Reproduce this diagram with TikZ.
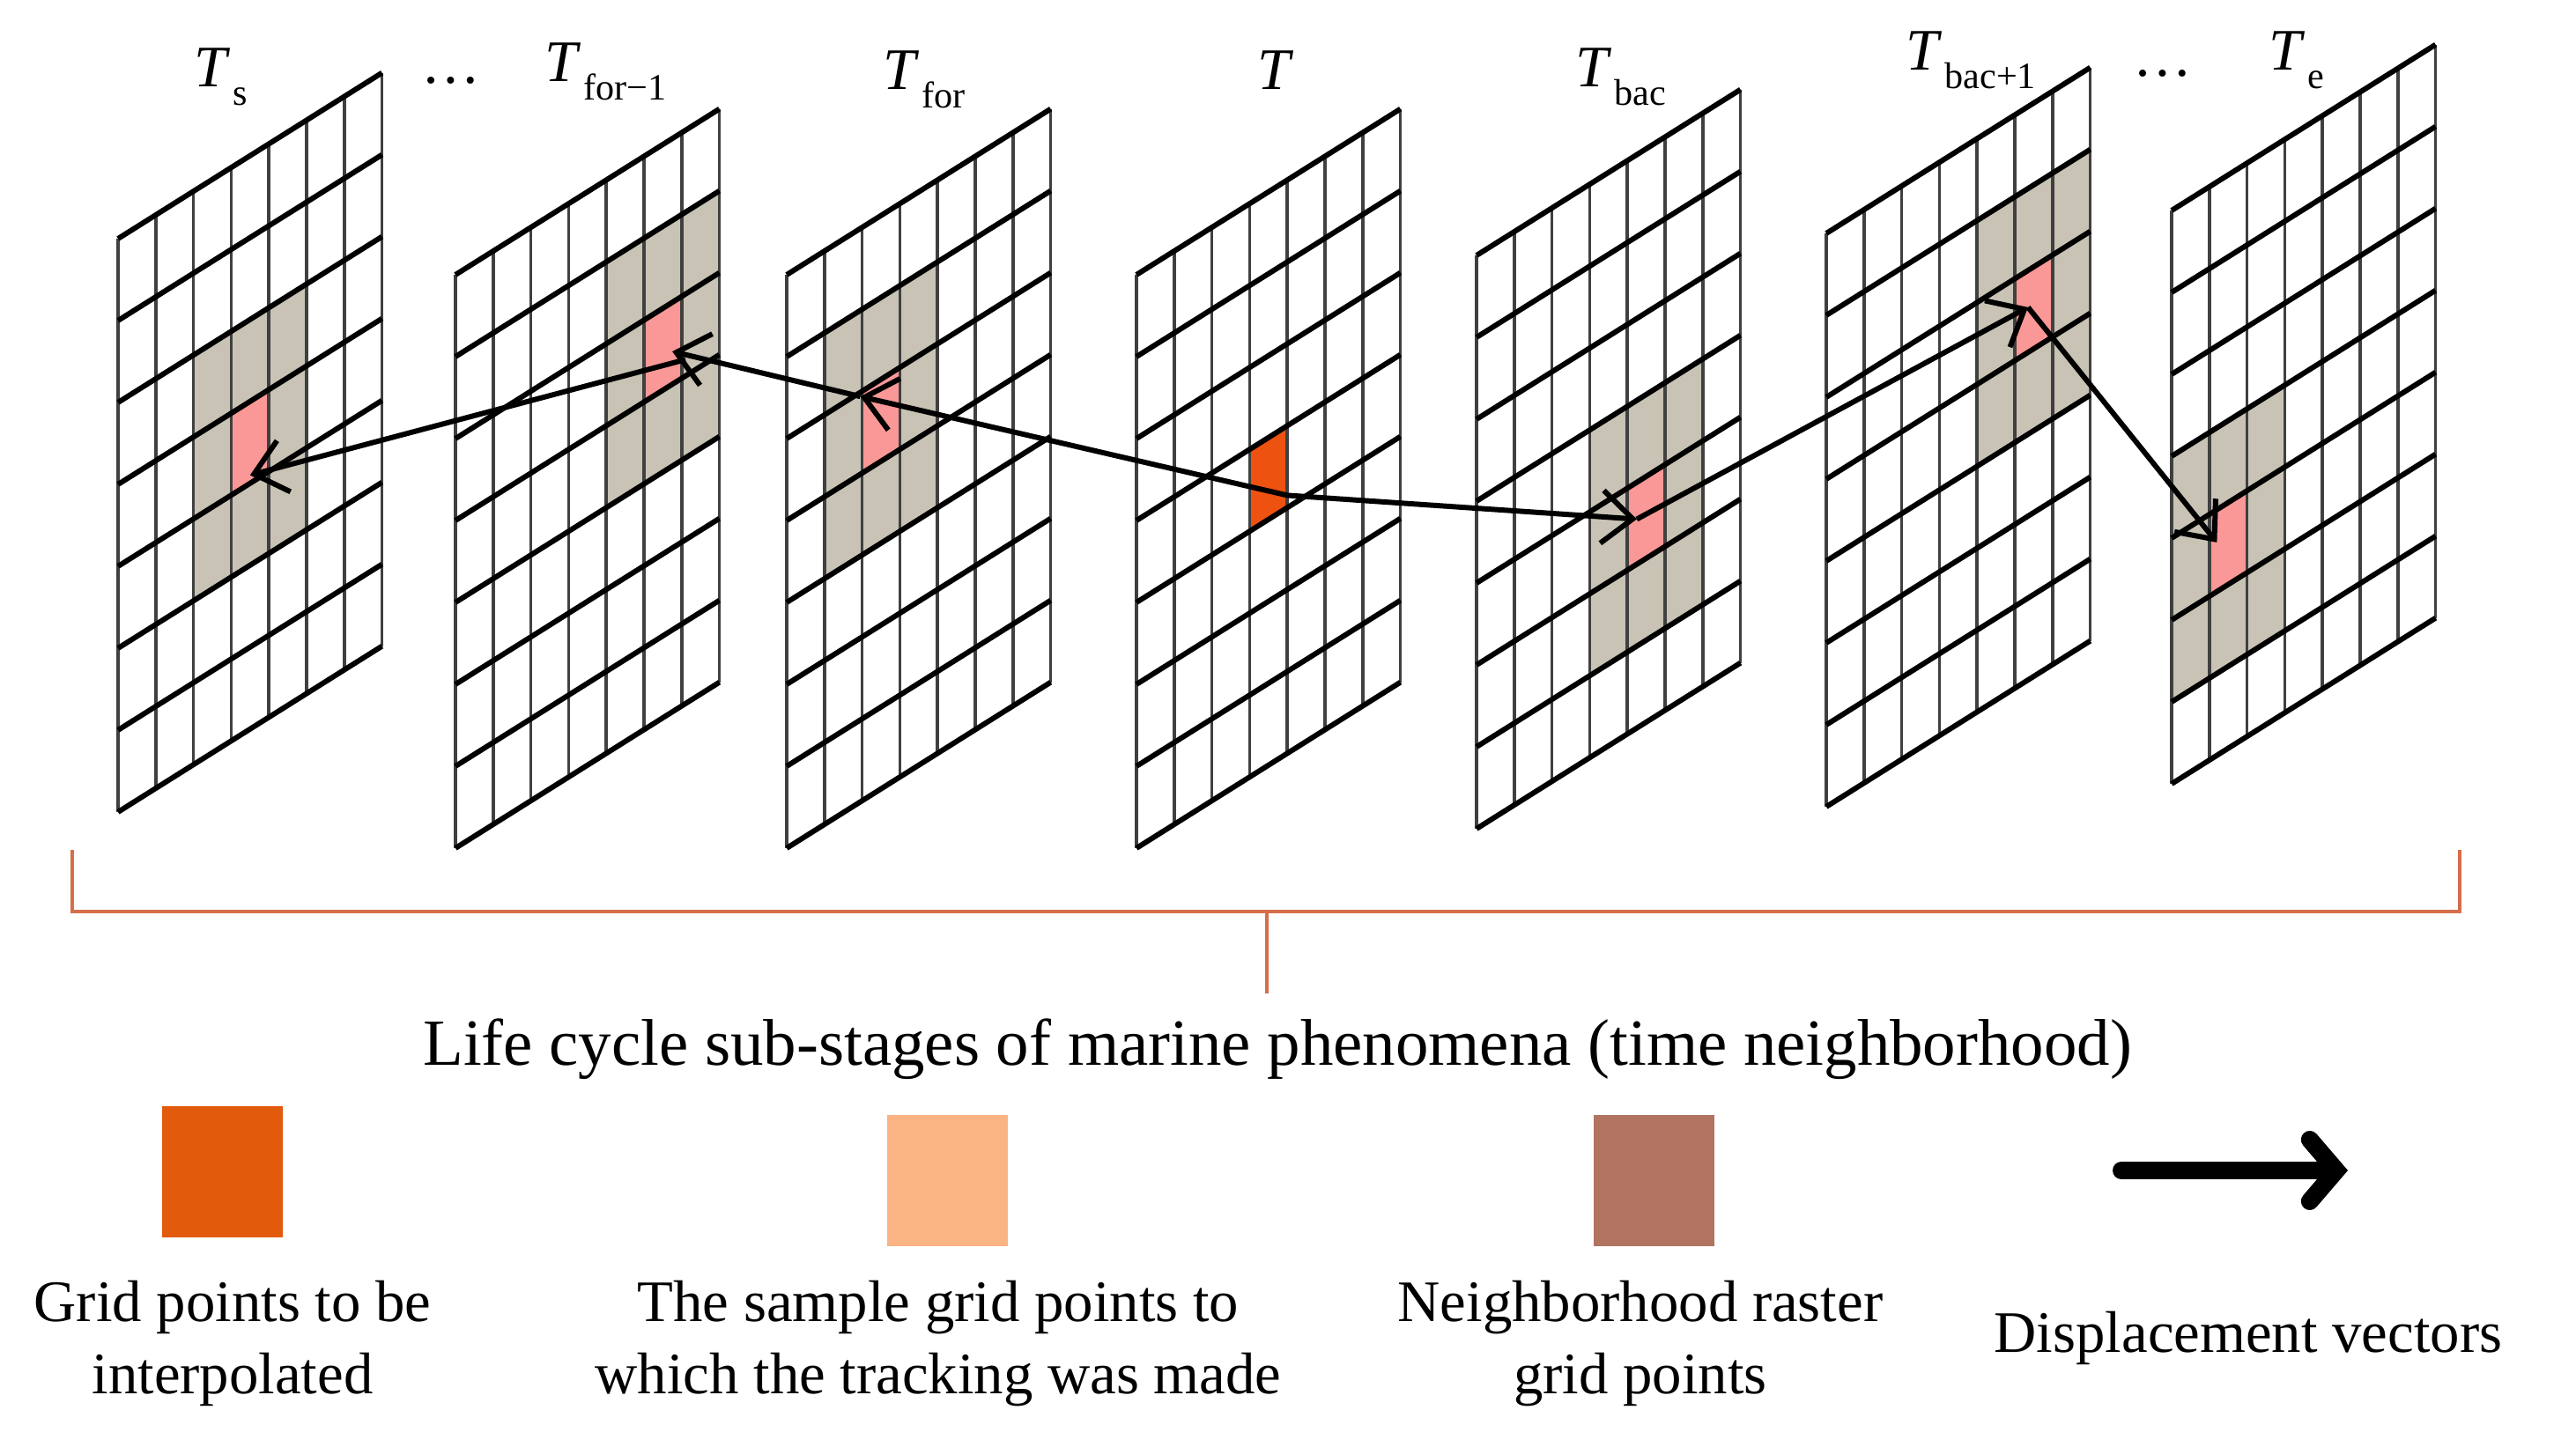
\documentclass[tikz,border=0pt]{standalone}
\usepackage{fontspec}
\setmainfont{Liberation Serif}
\usetikzlibrary{calc,arrows.meta}

\definecolor{ptorange}{RGB}{238,82,16}
\definecolor{ptpink}{RGB}{249,152,150}
\definecolor{nbgrey}{RGB}{200,195,181}
\definecolor{keyorange}{RGB}{226,90,12}
\definecolor{keypeach}{RGB}{250,180,132}
\definecolor{keybrown}{RGB}{176,116,96}
\definecolor{braceline}{RGB}{214,110,74}

\tikzset{
  raster/.style={shift={#1}, x={(0.428cm,0.269cm)}, y={(0cm,0.93cm)}},
  colline/.style={line width=1pt, black!75},
  rowline/.style={line width=1.7pt},
  dvec/.style={line width=1.7pt, -{Straight Barb[length=3.5mm,width=6mm]}},
  tlabel/.style={anchor=base west, inner sep=0pt, font=\fontsize{19}{23}\selectfont},
  keytext/.style={align=center, inner sep=0pt, font=\fontsize{19}{23.6}\selectfont},
  keybox/.style={minimum width=1.37cm, minimum height=1.49cm, inner sep=0pt},
  keyvec/.style={line width=5.7pt, line cap=round, -{Straight Barb[length=3mm,width=7mm,line cap=round]}},
  brace/.style={braceline, line width=1.1pt}
}

\newcommand{\rasterlines}{%
  \foreach \i in {0,...,7} \draw[colline] (\i,0) -- (\i,7);
  \foreach \j in {0,...,7} \draw[rowline] (0,\j) -- (7,\j);
}
\newcommand{\cellblock}[4]{\fill[#1] (#2,#3) -- ++(#4,0) -- ++(0,#4) -- ++(-#4,0) -- cycle;}
\newcommand{\tname}[1]{\textit{T}\kern0.04em\raisebox{-0.3em}{\fontsize{12}{12}\selectfont #1}}

\begin{document}
\begin{tikzpicture}
\useasboundingbox (0,0) rectangle (29.24,16.43);

% raster grids, from T_s to T_e
\begin{scope}[raster={(1.34,7.21)}]
  \cellblock{nbgrey}{2}{2}{3}
  \cellblock{ptpink}{3}{3}{1}
  \rasterlines
  \coordinate (ps) at (3.5,3.1);
\end{scope}
\begin{scope}[raster={(5.17,6.80)}]
  \cellblock{nbgrey}{4}{3}{3}
  \cellblock{ptpink}{5}{4}{1}
  \rasterlines
  \coordinate (pfm) at (5.75,4.4);
  \coordinate (pfmo) at (6.1,4.2);
\end{scope}
\begin{scope}[raster={(8.93,6.80)}]
  \cellblock{nbgrey}{1}{3}{3}
  \cellblock{ptpink}{2}{4}{1}
  \rasterlines
  \coordinate (pf) at (1.95,4.95);
\end{scope}
\begin{scope}[raster={(12.90,6.80)}]
  \cellblock{ptorange}{3}{3}{1}
  \rasterlines
  \coordinate (pc) at (4,3.15);
\end{scope}
\begin{scope}[raster={(16.76,7.02)}]
  \cellblock{nbgrey}{3}{1}{3}
  \cellblock{ptpink}{4}{2}{1}
  \rasterlines
  \coordinate (pb) at (4.25,2.55);
\end{scope}
\begin{scope}[raster={(20.73,7.27)}]
  \cellblock{nbgrey}{4}{3}{3}
  \cellblock{ptpink}{5}{4}{1}
  \rasterlines
  \coordinate (pbp) at (5.35,4.55);
\end{scope}
\begin{scope}[raster={(24.65,7.53)}]
  \cellblock{nbgrey}{0}{1}{3}
  \cellblock{ptpink}{1}{2}{1}
  \rasterlines
  \coordinate (pe) at (1.2,2.6);
\end{scope}

% displacement vectors
\draw[dvec] (pc) -- (pf);
\draw[dvec] (pf) -- (pfm);
\draw[dvec] (pfmo) -- (ps);
\draw[dvec] (pc) -- (pb);
\draw[dvec] (pb) -- (pbp);
\draw[dvec] (pbp) -- (pe);

% time labels
\node[tlabel] (ls) at (2.20,15.44) {\tname{s}};
\node[tlabel, anchor=base] (ldl) at (5.12,15.48) {…};
\node[tlabel] (lfm) at (6.18,15.50) {\tname{for−1}};
\node[tlabel] (lf) at (10.02,15.41) {\tname{for}};
\node[tlabel] (lc) at (14.27,15.41) {\textit{T}};
\node[tlabel] (lb) at (17.88,15.44) {\tname{bac}};
\node[tlabel] (lbp) at (21.63,15.63) {\tname{bac+1}};
\node[tlabel, anchor=base] (ldr) at (24.55,15.56) {…};
\node[tlabel] (le) at (25.75,15.63) {\tname{e}};

% brace
\coordinate (bl) at (0.82,6.78);
\coordinate (br) at (27.92,6.78);
\coordinate (bm) at (14.38,6.08);
\coordinate (bt) at (14.38,5.15);
\draw[brace] (bl) |- (bm) -| (br);
\draw[brace] (bm) -- (bt);
\node[anchor=base, inner sep=0pt, font=\fontsize{21.3}{25}\selectfont] (cap) at (14.50,4.33) {Life cycle sub-stages of marine phenomena (time neighborhood)};

% key
\node[keybox, fill=keyorange] (ko) at (2.52,3.125) {};
\node[keybox, fill=keypeach] (kp) at (10.75,3.025) {};
\node[keybox, fill=keybrown] (kb) at (18.77,3.025) {};
\coordinate (ka) at (24.08,3.14);
\coordinate (kz) at (26.65,3.14);
\draw[keyvec] (ka) -- (kz);
\node[keytext, anchor=base] (to) at (2.64,0.60) {Grid points to be\\interpolated};
\node[keytext, anchor=base] (tp) at (10.65,0.60) {The sample grid points to\\which the tracking was made};
\node[keytext, anchor=base] (tb) at (18.62,0.60) {Neighborhood raster\\grid points};
\node[keytext, anchor=base] (tv) at (25.52,1.07) {Displacement vectors};
\end{tikzpicture}
\end{document}
